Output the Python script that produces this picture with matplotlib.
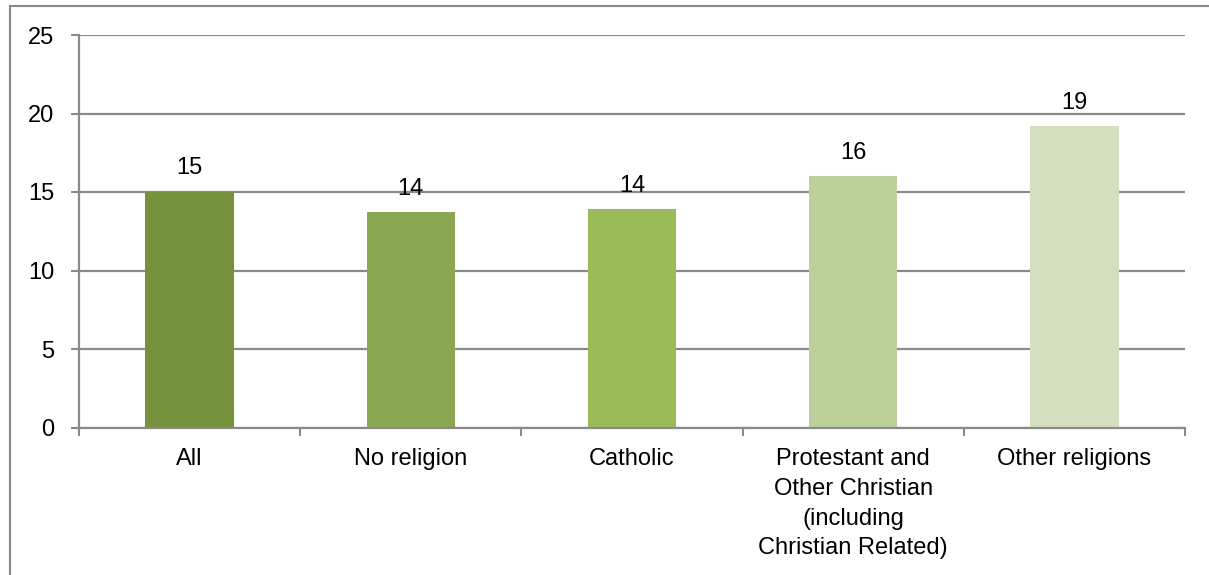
import matplotlib
matplotlib.use("Agg")
import matplotlib.pyplot as plt
from matplotlib.lines import Line2D

categories = ["All", "No religion", "Catholic",
              "Protestant and\nOther Christian\n(including\nChristian Related)",
              "Other religions"]
values = [15.0, 13.7, 13.9, 16.0, 19.2]
labels = ["15", "14", "14", "16", "19"]
colors = ["#76923C", "#8CA752", "#9BBB59", "#BBD09A", "#D2DFC0"]
yticks = [0, 5, 10, 15, 20, 25]

plt.rcParams['font.family'] = ['Liberation Sans', 'DejaVu Sans']
gray = "#8A8A8A"
fs = 17

fig = plt.figure(figsize=(12.09, 5.75), dpi=100)
ax = fig.add_axes([79/1209, 1-427.5/575, (1185-79)/1209, (427.5-35)/575])

x = list(range(len(categories)))
ax.bar(x, values, width=0.40, color=colors, zorder=2)
for xi, v, lab in zip(x, values, labels):
    ax.annotate(lab, (xi, v), xytext=(0, 9), textcoords="offset points",
                ha="center", va="bottom", fontsize=fs, color="black", zorder=3)

ax.set_xlim(-0.5, len(categories) - 0.5)
ax.set_ylim(0, 25)
ax.set_yticks(yticks)
ax.set_yticklabels([str(t) for t in yticks], fontsize=fs)
ax.set_xticks([i - 0.5 for i in range(len(categories) + 1)], minor=False)
ax.set_xticklabels([])
ax.set_xticks(x, minor=True)
ax.set_xticklabels(categories, minor=True, fontsize=fs, linespacing=1.45)
ax.tick_params(axis="x", which="minor", length=0, pad=15)
ax.tick_params(axis="x", which="major", length=6, width=1.5, color=gray, direction="out")
ax.tick_params(axis="y", length=6, width=1.5, color=gray, pad=12)

ax.set_axisbelow(True)
ax.yaxis.grid(True, color=gray, linewidth=1.6)
for s in ["top", "right"]:
    ax.spines[s].set_visible(False)
for s in ["left", "bottom"]:
    ax.spines[s].set_color(gray)
    ax.spines[s].set_linewidth(1.6)

# outer chart border
fig.add_artist(Line2D([10/1209, 10/1209], [0, 1-6/575], transform=fig.transFigure,
                      color=gray, linewidth=1.5))
fig.add_artist(Line2D([10/1209, 1], [1-6/575, 1-6/575], transform=fig.transFigure,
                      color=gray, linewidth=1.5))

fig.savefig("out.png", dpi=100)
